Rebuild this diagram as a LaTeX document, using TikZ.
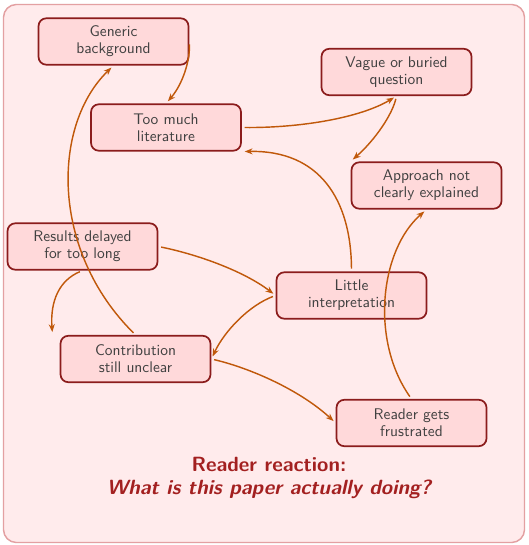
\documentclass[tikz,border=0pt]{standalone}
\usepackage{fontspec}
\usetikzlibrary{arrows.meta}
\definecolor{bgpink}{HTML}{FFEBEC}
\definecolor{outerline}{HTML}{E3A0A2}
\definecolor{boxfill}{HTML}{FFD9DA}
\definecolor{boxline}{HTML}{8B1C1C}
\definecolor{arrowcol}{HTML}{C0580A}
\definecolor{txtgray}{HTML}{404040}
\definecolor{titlered}{HTML}{A32020}
\begin{document}
\begin{tikzpicture}[x=0.7pt,y=-0.7pt,
  issue/.style={draw=boxline, fill=boxfill, line width=1.2pt, rounded corners=5.5pt,
    minimum width=105pt, minimum height=32.5pt, align=center, inner sep=2pt,
    font=\sffamily\fontsize{10.8}{11.9}\selectfont, text=txtgray},
  flow/.style={draw=arrowcol, line width=1pt, -{Stealth[length=5.5pt,width=4.2pt]},
    shorten >=2pt, shorten <=2pt}]
\useasboundingbox (0,0) rectangle (528,545);
\draw[fill=bgpink, draw=outerline, line width=1pt, rounded corners=9pt] (3.5,4.5) rectangle (524.5,542.5);

\node[issue] (gb)  at (113.5,41.5)  {Generic\\background};
\node[issue] (tml) at (166,127.5)   {Too much\\literature};
\node[issue] (vq)  at (396.5,72)    {Vague or buried\\question};
\node[issue] (ap)  at (426.5,185.5) {Approach not\\clearly explained};
\node[issue] (rd)  at (82.5,246.5)  {Results delayed\\for too long};
\node[issue] (li)  at (351.5,295.5) {Little\\interpretation};
\node[issue] (csu) at (135.5,359)   {Contribution\\still unclear};
\node[issue] (rgf) at (411.5,423)   {Reader gets\\frustrated};

\node[align=center, text=titlered, font=\sffamily\fontsize{14.4}{16.4}\selectfont\bfseries] (title) at (269,478)
  {Reader reaction:\\\itshape What is this paper actually doing?};

\draw[flow] (gb.east) .. controls (190,62) and (182,85) .. (tml.north);
\draw[flow] (csu.north) .. controls (50,250) and (52,125) .. (gb.south);
\draw[flow] (tml.east) .. controls (300,128) and (360,118) .. (vq.south);
\draw[flow] (vq.south) .. controls (392,115) and (375,140) .. (ap.north west);
\draw[flow] (li.north) .. controls (351,200) and (320,150) .. (tml.south east);
\draw[flow] (rgf.north) .. controls (370,340) and (380,250) .. (ap.south);
\draw[flow] (rd.east) .. controls (200,255) and (245,272) .. (li.west);
\draw[flow] (li.west) .. controls (250,305) and (225,330) .. (csu.east);
\draw[flow] (rd.south) .. controls (60,280) and (50,300) .. ([xshift=-5pt]csu.north west);
\draw[flow] (csu.east) .. controls (250,368) and (300,390) .. (rgf.west);
\end{tikzpicture}
\end{document}
